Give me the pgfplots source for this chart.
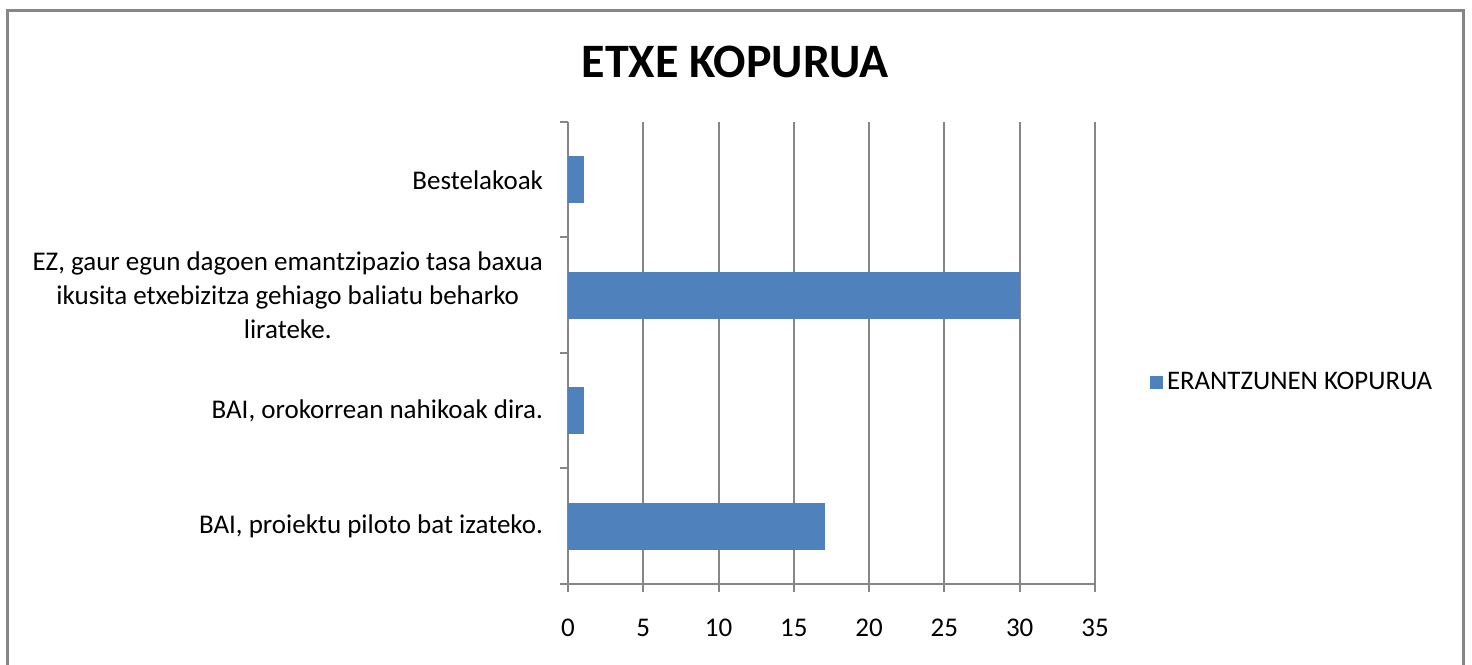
\documentclass[border=0pt]{standalone}
\usepackage{pgfplots}
\pgfplotsset{compat=1.18}
\usepackage{fontspec}
\setmainfont{Carlito}
\definecolor{barblue}{HTML}{4F81BD}
\definecolor{axgray}{HTML}{868686}
\begin{document}
\begin{tikzpicture}
% page = 1472x664 px at 0.5pt per px
\path[use as bounding box] (0,0) rectangle (736pt,332pt);
\draw[axgray, line width=1.3pt] (3.8pt,-5pt) -- (3.8pt,326.8pt) -- (731.8pt,326.8pt) -- (731.8pt,-5pt);
\node[font=\bfseries\fontsize{24}{29}\selectfont] at (367.5pt,301pt) {ETXE KOPURUA};
\begin{axis}[
  at={(284pt,40pt)}, anchor=south west,
  scale only axis, width=263.5pt, height=231pt,
  xbar, bar width=0.4,
  xmin=0, xmax=35, ymin=-0.5, ymax=3.5,
  axis lines*=left,
  axis line style={axgray, line width=1pt},
  xtick={0,5,...,35},
  xmajorgrids, grid style={axgray, line width=1pt},
  major tick length=4pt,
  tick align=outside,
  tick style={axgray, line width=1pt},
  ytick={-0.5,0.5,1.5,2.5,3.5}, yticklabels={},
  extra y ticks={0,1,2,3},
  extra y tick labels={{BAI, proiektu piloto bat izateko.},{BAI, orokorrean nahikoak dira.},{EZ, gaur egun dagoen emantzipazio tasa baxua\\ikusita etxebizitza gehiago baliatu beharko\\lirateke.},{Bestelakoak}},
  extra y tick style={major tick length=0pt, grid=none,
    yticklabel style={align=center, font=\fontsize{13.5}{16.8}\selectfont, xshift=-9pt}},
  xticklabel style={font=\fontsize{13.5}{16}\selectfont, yshift=-10pt},
  /pgf/number format/assume math mode=true,
  legend style={at={(1.104,0.437)}, anchor=west, draw=none, fill=none,
    font=\fontsize{13.4}{16}\selectfont, inner sep=0pt},
  legend image code/.code={\fill[barblue] (0pt,-3pt) rectangle (6pt,3pt);},
]
\addplot[fill=barblue, draw=barblue] coordinates {(17,0) (1,1) (30,2) (1,3)};
\addlegendentry{ERANTZUNEN KOPURUA}
\end{axis}
\end{tikzpicture}
\end{document}
